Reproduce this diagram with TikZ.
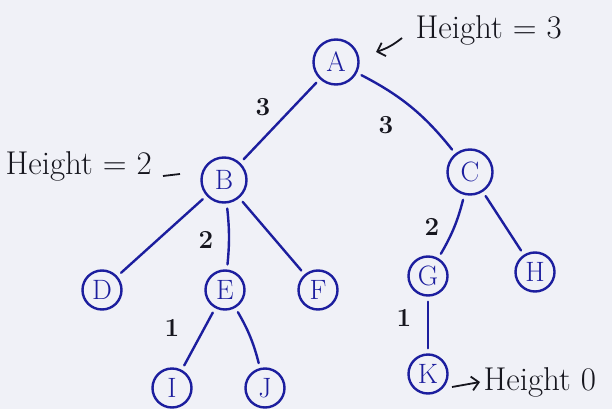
\documentclass[tikz,border=0pt]{standalone}
\usepackage{fontspec}
\setmainfont{Latin Modern Roman}
\usetikzlibrary{arrows.meta}
\definecolor{paper}{RGB}{240,241,247}
\definecolor{ink}{RGB}{28,30,158}
\definecolor{pencil}{RGB}{22,22,30}
\begin{document}
\begin{tikzpicture}[x=1pt,y=-1pt,
  vertex/.style={circle,draw=ink,line width=2.4pt,text=ink,inner sep=0pt,
                 minimum size=39pt,font=\fontsize{28}{28}\selectfont},
  bigvertex/.style={vertex,minimum size=45pt},
  branch/.style={draw=ink,line width=2.4pt,line cap=round,shorten <=5pt,shorten >=5pt},
  weight/.style={text=pencil,font=\fontsize{26}{26}\selectfont\bfseries},
  note/.style={text=pencil,font=\fontsize{33}{33}\selectfont,anchor=west}]
\fill[paper] (0,0) rectangle (612,409);
\useasboundingbox (0,0) rectangle (612,409);
\clip (0,0) rectangle (612,409);

% vertices
\node[bigvertex] (A) at (336,62) {A};
\node[bigvertex] (B) at (224,180) {B};
\node[bigvertex] (C) at (470,172) {C};
\node[vertex] (D) at (102,290) {D};
\node[vertex] (E) at (225,290) {E};
\node[vertex] (F) at (318,290) {F};
\node[vertex] (G) at (428,276) {G};
\node[vertex] (H) at (535,272) {H};
\node[vertex] (I) at (172,388) {I};
\node[vertex] (J) at (265,388) {J};
\node[vertex] (K) at (428,374) {K};

% branches
\draw[branch] (A) -- (B);
\draw[branch] (A) to[bend left=12] (C);
\draw[branch] (B) -- (D);
\draw[branch] (B) to[bend left=6] (E);
\draw[branch] (B) -- (F);
\draw[branch] (C) to[bend left=8] (G);
\draw[branch] (C) -- (H);
\draw[branch] (E) -- (I);
\draw[branch] (E) to[bend left=8] (J);
\draw[branch] (G) -- (K);

% heights written on the branches
\node[weight] (wAB) at (263,107) {3};
\node[weight] (wAC) at (386,125) {3};
\node[weight] (wBE) at (206,240) {2};
\node[weight] (wCG) at (432,227) {2};
\node[weight] (wEI) at (172,328) {1};
\node[weight] (wGK) at (404,318) {1};

% height notes
\node[note] (hA) at (412,30) {Height = 3};
\coordinate (hAtip) at (376,52);
\coordinate (hAtail) at (402,38);
\draw[pencil,line width=1.8pt,-{Straight Barb[length=7pt]}] (hAtail) to[bend left=10] (hAtip);

\node[note] (hB) at (2,166) {Height = 2};
\coordinate (dashL) at (163,176);
\coordinate (dashR) at (180,174);
\draw[pencil,line width=1.8pt] (dashL) -- (dashR);

\node[note] (hK) at (480,382) {Height 0};
\coordinate (kArrowTail) at (452,387);
\draw[pencil,line width=1.8pt,-{Straight Barb[length=7pt]}] (kArrowTail) -- (hK.west);
\end{tikzpicture}
\end{document}
